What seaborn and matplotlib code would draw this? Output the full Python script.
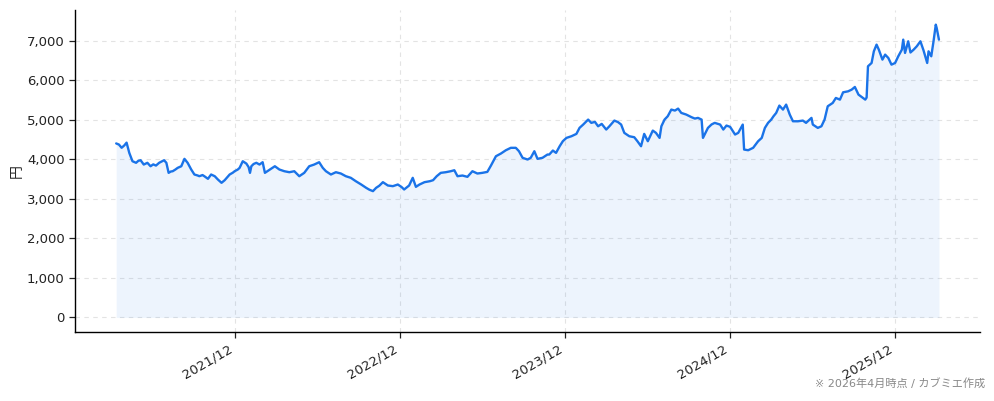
import matplotlib
matplotlib.use("Agg")
import matplotlib.pyplot as plt
import matplotlib.dates as mdates
import matplotlib.ticker as mticker
import pandas as pd
import seaborn as sns

dates = [
    "2021-03-14", "2021-03-20", "2021-03-26", "2021-04-01", "2021-04-06", "2021-04-12",
    "2021-04-19", "2021-04-27", "2021-05-02", "2021-05-07", "2021-05-14", "2021-05-22",
    "2021-05-29", "2021-06-04", "2021-06-10", "2021-06-17", "2021-06-24", "2021-06-28",
    "2021-07-03", "2021-07-08", "2021-07-13", "2021-07-17", "2021-07-23", "2021-07-28",
    "2021-08-05", "2021-08-12", "2021-08-19", "2021-08-27", "2021-09-03", "2021-09-10",
    "2021-09-14", "2021-09-21", "2021-09-25", "2021-10-03", "2021-10-10", "2021-10-18",
    "2021-10-25", "2021-11-02", "2021-11-09", "2021-11-16", "2021-11-20", "2021-11-27",
    "2021-12-01", "2021-12-08", "2021-12-12", "2021-12-19", "2021-12-27", "2022-01-01",
    "2022-01-04", "2022-01-07", "2022-01-12", "2022-01-18", "2022-01-25", "2022-02-01",
    "2022-02-06", "2022-02-17", "2022-02-28", "2022-03-10", "2022-03-21", "2022-04-01",
    "2022-04-12", "2022-04-23", "2022-05-04", "2022-05-15", "2022-05-26", "2022-06-06",
    "2022-06-14", "2022-06-21", "2022-07-02", "2022-07-13", "2022-07-24", "2022-08-04",
    "2022-08-15", "2022-08-26", "2022-09-07", "2022-09-18", "2022-09-25", "2022-10-03",
    "2022-10-10", "2022-10-17", "2022-10-25", "2022-11-05", "2022-11-16", "2022-11-27",
    "2022-12-05", "2022-12-11", "2022-12-22", "2022-12-30", "2023-01-06", "2023-01-14",
    "2023-01-25", "2023-02-06", "2023-02-13", "2023-02-21", "2023-03-02", "2023-03-13",
    "2023-03-24", "2023-04-01", "2023-04-08", "2023-04-19", "2023-04-30", "2023-05-11",
    "2023-05-22", "2023-06-02", "2023-06-13", "2023-06-21", "2023-07-02", "2023-07-13",
    "2023-07-24", "2023-08-04", "2023-08-15", "2023-08-22", "2023-08-30", "2023-09-10",
    "2023-09-17", "2023-09-25", "2023-10-02", "2023-10-13", "2023-10-24", "2023-10-28",
    "2023-11-05", "2023-11-12", "2023-11-20", "2023-11-27", "2023-12-05", "2023-12-16",
    "2023-12-27", "2024-01-03", "2024-01-11", "2024-01-22", "2024-01-29", "2024-02-06",
    "2024-02-13", "2024-02-21", "2024-03-02", "2024-03-09", "2024-03-20", "2024-03-28",
    "2024-04-04", "2024-04-11", "2024-04-22", "2024-05-03", "2024-05-10", "2024-05-18",
    "2024-05-25", "2024-06-02", "2024-06-13", "2024-06-20", "2024-06-28", "2024-07-02",
    "2024-07-09", "2024-07-16", "2024-07-24", "2024-08-01", "2024-08-08", "2024-08-15",
    "2024-08-26", "2024-09-07", "2024-09-14", "2024-09-21", "2024-09-29", "2024-10-02",
    "2024-10-13", "2024-10-21", "2024-10-28", "2024-11-09", "2024-11-16", "2024-11-23",
    "2024-12-01", "2024-12-12", "2024-12-19", "2024-12-29", "2025-01-01", "2025-01-10",
    "2025-01-21", "2025-02-01", "2025-02-09", "2025-02-16", "2025-02-23", "2025-03-02",
    "2025-03-07", "2025-03-13", "2025-03-20", "2025-03-28", "2025-04-04", "2025-04-12",
    "2025-04-19", "2025-04-30", "2025-05-11", "2025-05-18", "2025-05-30", "2025-06-02",
    "2025-06-13", "2025-06-21", "2025-06-28", "2025-07-05", "2025-07-16", "2025-07-23",
    "2025-08-01", "2025-08-08", "2025-08-19", "2025-08-27", "2025-09-03", "2025-09-11",
    "2025-09-18", "2025-09-26", "2025-09-29", "2025-10-02", "2025-10-10", "2025-10-15",
    "2025-10-21", "2025-10-26", "2025-11-03", "2025-11-09", "2025-11-16", "2025-11-23",
    "2025-12-01", "2025-12-08", "2025-12-16", "2025-12-19", "2025-12-23", "2025-12-30",
    "2026-01-04", "2026-01-11", "2026-01-18", "2026-01-26", "2026-02-02", "2026-02-10",
    "2026-02-13", "2026-02-19", "2026-02-24", "2026-03-01", "2026-03-03", "2026-03-08",
]

prices = [
    4400, 4372, 4290, 4350, 4420, 4160,
    3950, 3910, 3960, 3975, 3866, 3910,
    3823, 3870, 3840, 3910, 3950, 3975,
    3910, 3656, 3690, 3697, 3740, 3782,
    3823, 4010, 3910, 3740, 3614, 3590,
    3571, 3600, 3571, 3505, 3614, 3571,
    3487, 3404, 3470, 3560, 3614, 3660,
    3697, 3740, 3782, 3950, 3890, 3800,
    3656, 3823, 3880, 3910, 3866, 3925,
    3656, 3740, 3823, 3740, 3697, 3672,
    3697, 3571, 3656, 3823, 3866, 3925,
    3782, 3697, 3614, 3672, 3639, 3571,
    3530, 3445, 3361, 3277, 3230, 3193,
    3277, 3330, 3420, 3336, 3319, 3361,
    3300, 3235, 3336, 3530, 3302, 3361,
    3420, 3445, 3470, 3571, 3656, 3672,
    3697, 3722, 3571, 3588, 3555, 3697,
    3639, 3656, 3680, 3840, 4076, 4144,
    4228, 4289, 4289, 4203, 4036, 3993,
    4036, 4203, 4010, 4036, 4119, 4119,
    4220, 4161, 4329, 4456, 4540, 4582,
    4641, 4794, 4877, 5003, 4920, 4945,
    4834, 4894, 4751, 4834, 4978, 4940,
    4877, 4667, 4582, 4557, 4456, 4329,
    4641, 4456, 4725, 4667, 4540, 4834,
    5003, 5087, 5256, 5231, 5281, 5172,
    5130, 5062, 5029, 5046, 5003, 4540,
    4793, 4880, 4920, 4877, 4751, 4852,
    4820, 4625, 4667, 4877, 4245, 4228,
    4289, 4456, 4540, 4793, 4920, 5003,
    5087, 5172, 5357, 5256, 5382, 5130,
    4961, 4960, 4978, 4920, 5046, 4877,
    4793, 4834, 5003, 5340, 5424, 5550,
    5508, 5693, 5718, 5761, 5828, 5635,
    5576, 5508, 5560, 6351, 6435, 6730,
    6899, 6772, 6520, 6646, 6562, 6393,
    6435, 6604, 6772, 7025, 6689, 6983,
    6700, 6772, 6857, 6983, 6750, 6435,
    6730, 6604, 6983, 7404, 7320, 7025,
]

y_label = "円"
note_text = "※ 2026年4月時点 / カブミエ作成"

LINE_COLOR = "#1a73e8"

sns.set_theme(style="ticks")
plt.rcParams["font.family"] = ["DejaVu Sans", "Noto Sans CJK JP"]

df = pd.DataFrame({"date": pd.to_datetime(dates), "price": prices})

fig = plt.figure(figsize=(9.94, 4.01), dpi=100)
ax = fig.add_axes([0.0755, 0.172, 0.9105, 0.803])

ax.fill_between(df["date"], df["price"], 0, color=LINE_COLOR, alpha=0.08, linewidth=0)
sns.lineplot(data=df, x="date", y="price", ax=ax, color=LINE_COLOR, linewidth=1.7)

ax.margins(x=0.05, y=0.05)
ax.xaxis.set_major_locator(mdates.MonthLocator(bymonth=12))
ax.xaxis.set_major_formatter(mdates.DateFormatter("%Y/%m"))
ax.yaxis.set_major_locator(mticker.MultipleLocator(1000))
ax.yaxis.set_major_formatter(mticker.FuncFormatter(lambda v, p: f"{int(v):,}"))

for lbl in ax.get_xticklabels():
    lbl.set_rotation(30)
    lbl.set_ha("right")
    lbl.set_fontsize(9.5)
for lbl in ax.get_yticklabels():
    lbl.set_fontsize(9.5)

ax.set_xlabel("")
ax.set_ylabel(y_label, fontsize=10, family=["Noto Sans CJK JP", "DejaVu Sans"], labelpad=2)
ax.grid(True, linestyle=(0, (4, 4)), color="#e3e3e3", linewidth=0.8)
ax.set_axisbelow(True)
sns.despine(ax=ax)
for s in ("left", "bottom"):
    ax.spines[s].set_color("black")
    ax.spines[s].set_linewidth(1.0)
ax.tick_params(axis="both", colors="#222222", length=4, width=0.9)

fig.text(0.991, 0.030, note_text, ha="right", va="bottom", fontsize=8, color="#888888",
         family=["DejaVu Sans", "Noto Sans CJK JP"])

fig.savefig("out.png", dpi=100)
